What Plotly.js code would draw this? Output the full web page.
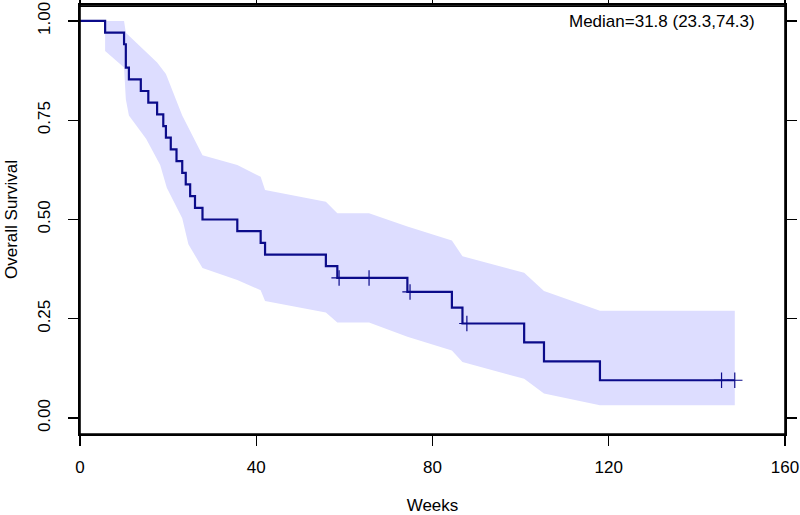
<!DOCTYPE html>
<html>
<head>
<meta charset="utf-8">
<script src="https://cdn.plot.ly/plotly-3.0.1.min.js"></script>
<style>html,body{margin:0;padding:0;background:#fff;}#chart{width:800px;height:515px;}</style>
</head>
<body>
<div id="chart"></div>
<script>
// Kaplan-Meier step curve (weeks, survival)
var eventTimes = [5.7, 10.0, 10.4, 11.1, 13.8, 15.5, 17.5, 18.9, 19.5, 20.6, 21.9, 23.2, 24.0, 25.0, 26.1, 27.8, 35.7, 41.0, 42.0, 55.8, 58.4, 74.3, 84.4, 86.8, 100.8, 105.3, 118.0];
var survival   = [0.9706, 0.9412, 0.8824, 0.8529, 0.8235, 0.7941, 0.7647, 0.7353, 0.7059, 0.6765, 0.6471, 0.6176, 0.5882, 0.5588, 0.5294, 0.5000, 0.4706, 0.4412, 0.4118, 0.3824, 0.3529, 0.3176, 0.2779, 0.2382, 0.1906, 0.1429, 0.0953];
// censored observations
var censorTimes = [58.8, 65.6, 74.9, 87.8, 145.6, 148.6];
var censorSurv  = [0.3529, 0.3529, 0.3176, 0.2382, 0.0953, 0.0953];
// confidence band
var upperTimes = [5.7, 10.0, 10.4, 17.5, 19.5, 23.2, 27.8, 35.7, 41.0, 42.0, 55.8, 58.4, 65.6, 74.3, 84.4, 86.8, 100.8, 105.3, 118.0, 148.6];
var upperSurv  = [1.0, 1.0, 0.97, 0.895, 0.866, 0.762, 0.662, 0.637, 0.6075, 0.574, 0.545, 0.516, 0.516, 0.4825, 0.447, 0.4075, 0.366, 0.32, 0.27, 0.27];
var lowerTimes = [5.7, 10.0, 10.4, 11.1, 15.0, 18.2, 19.7, 23.2, 24.6, 27.8, 35.7, 41.0, 42.0, 55.8, 58.4, 65.6, 74.3, 84.4, 86.8, 100.8, 105.3, 118.0, 148.6];
var lowerSurv  = [0.924, 0.8825, 0.803, 0.762, 0.703, 0.637, 0.58, 0.503, 0.4375, 0.378, 0.348, 0.322, 0.295, 0.266, 0.241, 0.241, 0.205, 0.17, 0.141, 0.099, 0.062, 0.0325, 0.0325];
var xTicks = [0, 40, 80, 120, 160];
var yTicks = [0, 0.25, 0.5, 0.75, 1];
var yTickText = ['0.00', '0.25', '0.50', '0.75', '1.00'];
var medianText = 'Median=31.8 (23.3,74.3)';

var lastCensor = censorTimes[censorTimes.length - 1];
var curveX = [0].concat(eventTimes, [lastCensor]);
var curveY = [1].concat(survival, [survival[survival.length - 1]]);

var bandX = upperTimes.concat(lowerTimes.slice().reverse());
var bandY = upperSurv.concat(lowerSurv.slice().reverse());

var navy = '#0b0b8a';
var traces = [
  {x: bandX, y: bandY, type: 'scatter', mode: 'lines', fill: 'toself',
   fillcolor: 'rgb(221,221,255)', line: {width: 0, color: 'rgba(0,0,0,0)'}, hoverinfo: 'skip'},
  {x: curveX, y: curveY, type: 'scatter', mode: 'lines',
   line: {shape: 'hv', color: navy, width: 2.2}},
  {x: censorTimes, y: censorSurv, type: 'scatter', mode: 'markers',
   marker: {symbol: 'cross-thin', size: 11, line: {color: navy, width: 1.2}}}
];

var font = {family: 'Liberation Sans, Arial, Helvetica, sans-serif', size: 17, color: '#000'};
var layout = {
  width: 800, height: 515,
  margin: {l: 80, r: 15, t: 5, b: 81},
  paper_bgcolor: '#fff', plot_bgcolor: '#fff',
  showlegend: false,
  font: font,
  xaxis: {
    range: [0, 160], tickvals: xTicks, ticktext: xTicks.map(String),
    showgrid: false, zeroline: false, showline: true, mirror: 'all',
    linecolor: '#000', linewidth: 1.6, ticks: 'outside', ticklen: 10, tickwidth: 1.3, tickcolor: '#000',
    tickfont: font, ticklabelstandoff: 7, ticklabeloverflow: 'allow',
    title: {text: 'Weeks', font: font, standoff: 33}
  },
  yaxis: {
    range: [-0.04, 1.04], tickvals: yTicks, ticktext: yTickText, tickangle: -90,
    showgrid: false, zeroline: false, showline: true, mirror: 'all',
    linecolor: '#000', linewidth: 1.6, ticks: 'outside', ticklen: 10, tickwidth: 1.3, tickcolor: '#000',
    tickfont: font, ticklabelstandoff: 12, ticklabeloverflow: 'allow',
    title: {text: 'Overall Survival', font: font, standoff: 12}
  },
  shapes: [{
    type: 'rect', xref: 'paper', yref: 'paper', x0: 0, x1: 1, y0: 0, y1: 1,
    line: {color: '#000', width: 1.6}, fillcolor: 'rgba(0,0,0,0)', layer: 'above'
  }, {
    type: 'line', xref: 'paper', yref: 'paper', x0: 0, x1: 1, y0: 0.997, y1: 0.997,
    line: {color: '#000', width: 1.6}, layer: 'above'
  }],
  annotations: [{
    xref: 'paper', yref: 'paper', x: 0.825, y: 0.962, xanchor: 'center', yanchor: 'middle',
    text: medianText, showarrow: false, font: font
  }]
};
Plotly.newPlot('chart', traces, layout, {displayModeBar: false, staticPlot: true});
</script>
</body>
</html>
